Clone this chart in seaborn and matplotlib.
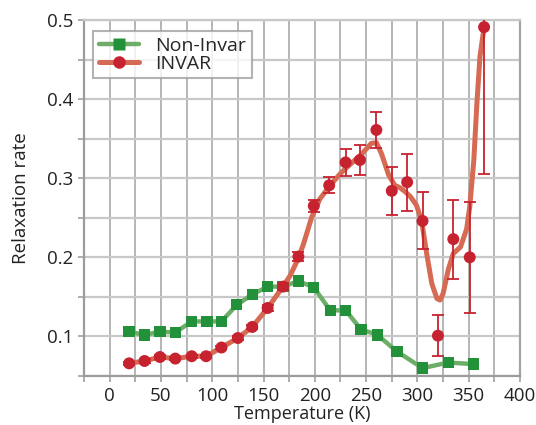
import matplotlib
matplotlib.use("Agg")
import matplotlib.pyplot as plt
from matplotlib.lines import Line2D
import seaborn as sns
import pandas as pd

# Non-Invar sample (green squares)
non_invar_T = [19, 34, 49, 64, 80, 95, 109, 124, 139, 154, 169, 184, 199,
               215, 230, 245, 261, 280, 305, 330, 355]
non_invar_rate = [0.106, 0.102, 0.106, 0.105, 0.119, 0.119, 0.119, 0.140, 0.153,
                  0.163, 0.163, 0.170, 0.162, 0.133, 0.133, 0.109, 0.102, 0.081,
                  0.060, 0.067, 0.065]

# INVAR sample (red circles with error bars)
invar_T = [19, 34, 49, 64, 80, 94, 109, 125, 139, 154, 169, 184, 199, 214, 230,
           244, 260, 275, 290, 305, 320, 335, 351, 365]
invar_rate = [0.066, 0.069, 0.074, 0.072, 0.075, 0.075, 0.086, 0.098, 0.112, 0.136,
              0.163, 0.201, 0.265, 0.291, 0.320, 0.323, 0.361, 0.284, 0.295, 0.246,
              0.101, 0.223, 0.200, 0.491]
invar_err = [0.002, 0.002, 0.002, 0.002, 0.002, 0.002, 0.002, 0.003, 0.003, 0.004,
             0.004, 0.006, 0.008, 0.010, 0.017, 0.019, 0.023, 0.030, 0.036, 0.036,
             0.026, 0.050, 0.070, 0.186]

# smooth fitted curve through the INVAR data
invar_fit_T = [19, 34, 49, 64, 80, 94, 109, 125, 139, 154, 169, 176, 184, 189, 197,
               205, 215, 225, 234, 246, 255, 260, 265, 272, 278, 283, 288, 293, 299,
               304, 309, 314, 319, 322, 325, 330, 335, 342, 348, 351, 355, 358, 361, 365]
invar_fit_rate = [0.066, 0.069, 0.074, 0.072, 0.075, 0.075, 0.086, 0.098, 0.112, 0.136,
                  0.163, 0.177, 0.199, 0.217, 0.251, 0.274, 0.291, 0.306, 0.317, 0.331,
                  0.344, 0.345, 0.331, 0.304, 0.291, 0.288, 0.283, 0.277, 0.266, 0.247,
                  0.205, 0.167, 0.148, 0.146, 0.154, 0.184, 0.205, 0.213, 0.236, 0.264,
                  0.323, 0.395, 0.454, 0.491]

x_ticks = list(range(-25, 401, 25))
x_labels = ["" if t % 50 else str(t) for t in x_ticks]
x_labels[0] = ""
y_ticks = [0.05, 0.1, 0.15, 0.2, 0.25, 0.3, 0.35, 0.4, 0.45, 0.5]
y_labels = ["", "0.1", "", "0.2", "", "0.3", "", "0.4", "", "0.5"]

green_line = "#6cae68"
green_mark = "#23903a"
red_line = "#d66a52"
red_mark = "#c6222f"

sns.set_theme(style="white")
plt.rcParams["font.family"] = ["Open Sans", "DejaVu Sans"]

df_non = pd.DataFrame({"T": non_invar_T, "rate": non_invar_rate})
df_inv = pd.DataFrame({"T": invar_T, "rate": invar_rate})
df_fit = pd.DataFrame({"T": invar_fit_T, "rate": invar_fit_rate})

fig = plt.figure(figsize=(5.36, 4.25), dpi=100)
ax = fig.add_axes([84 / 536, 1 - 376 / 425, 436 / 536, 356 / 425])

sns.lineplot(data=df_non, x="T", y="rate", ax=ax, color=green_line, lw=3.2,
             sort=False, solid_joinstyle="round", solid_capstyle="round", zorder=3)
sns.scatterplot(data=df_non, x="T", y="rate", ax=ax, marker="s", s=66,
                color=green_mark, edgecolor="none", zorder=4)

sns.lineplot(data=df_fit, x="T", y="rate", ax=ax, color=red_line, lw=3.6,
             sort=False, solid_joinstyle="round", solid_capstyle="round", zorder=5)
ax.errorbar(invar_T, invar_rate, yerr=invar_err, fmt="none", ecolor=red_mark,
            elinewidth=1.3, capsize=4.5, capthick=1.3, zorder=6)
sns.scatterplot(data=df_inv, x="T", y="rate", ax=ax, marker="o", s=74,
                color=red_mark, edgecolor="none", zorder=7)

ax.set_xlim(-25, 400)
ax.set_ylim(0.05, 0.5)
ax.set_xticks(x_ticks)
ax.set_xticklabels(x_labels)
ax.set_yticks(y_ticks)
ax.set_yticklabels(y_labels)
ax.tick_params(axis="both", labelsize=13.5, colors="#a0a0a0", labelcolor="#222222",
               length=4, width=1.2, direction="out", pad=4)
ax.tick_params(axis="x", bottom=True, pad=4)
ax.tick_params(axis="y", left=True, pad=4)

ax.xaxis.grid(True, color="#a9a9a9", lw=1.2)
ax.yaxis.grid(True, color="#c8c8c8", lw=1.6)
ax.set_axisbelow(True)
for side, col in [("left", "#9c9c9c"), ("bottom", "#9c9c9c"),
                  ("right", "#a4a4a4"), ("top", "#c8c8c8")]:
    ax.spines[side].set_color(col)
    ax.spines[side].set_linewidth(1.6)

ax.set_xlabel("Temperature (K)", fontsize=13, color="#222222", labelpad=0)
ax.set_ylabel("Relaxation rate", fontsize=13.5, color="#222222", labelpad=12)

handles = [
    Line2D([], [], color=green_line, lw=3.2, marker="s", markersize=8.5,
           markerfacecolor=green_mark, markeredgecolor="none"),
    Line2D([], [], color=red_line, lw=3.6, marker="o", markersize=9,
           markerfacecolor=red_mark, markeredgecolor="none"),
]
leg = ax.legend(handles, ["Non-Invar", "INVAR"], loc="upper left",
                bbox_to_anchor=(0.02, 0.97), borderaxespad=0, fontsize=14,
                frameon=True, fancybox=False, edgecolor="#a0a0a0",
                handlelength=2.1, handletextpad=0.8, borderpad=0.3,
                labelspacing=0.0)
leg.get_frame().set_linewidth(1.5)
leg.set_zorder(10)

fig.savefig("out.png", dpi=100)
